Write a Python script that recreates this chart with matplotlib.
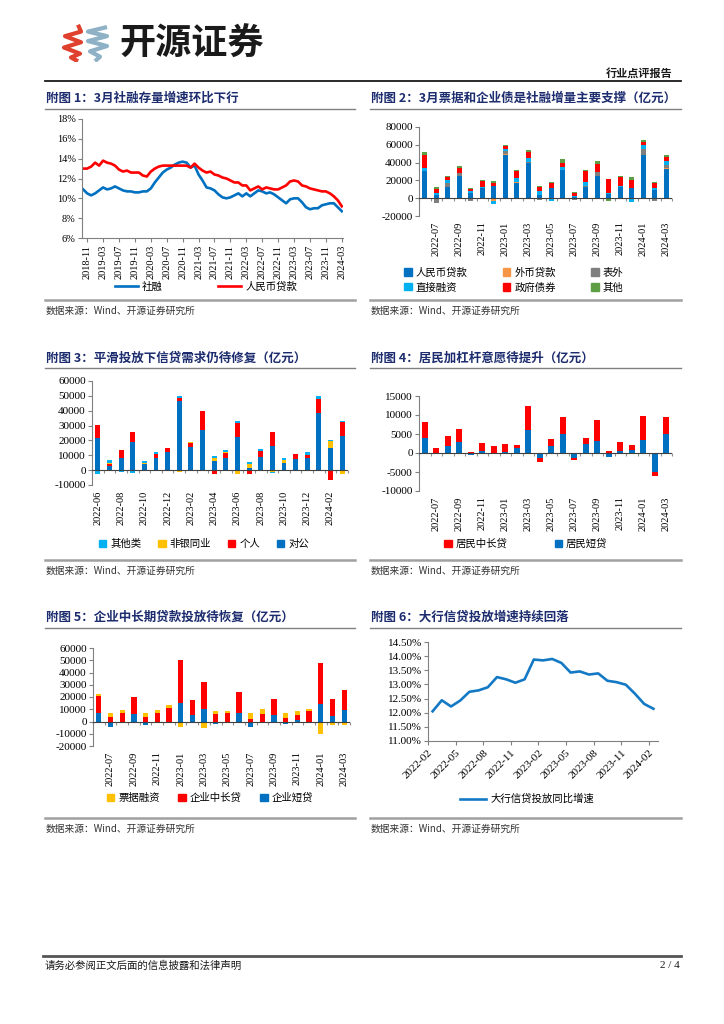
import matplotlib
matplotlib.use('Agg')
import matplotlib.pyplot as plt
import numpy as np
import pandas as pd
from matplotlib.lines import Line2D
from matplotlib.patches import Patch

plt.rcParams['font.family'] = ['Liberation Serif', 'Noto Sans CJK SC', 'DejaVu Sans']
plt.rcParams['axes.unicode_minus'] = False

# ---- data ----
# chart 1: monthly 2018-10 .. 2024-03, yoy %
m1 = [p.strftime('%Y-%m') for p in pd.period_range('2018-10', '2024-03', freq='M')]
shrz_yoy = [10.9, 10.5, 10.3, 10.5, 10.8, 11.1, 10.9, 11.0, 11.2, 11.0,
            10.8, 10.7, 10.7, 10.6, 10.6, 10.7, 10.7, 11.0, 11.6, 12.1,
            12.6, 12.9, 13.1, 13.4, 13.6, 13.7, 13.6, 13.1, 13.3, 12.4,
            11.8, 11.1, 11.0, 10.8, 10.4, 10.1, 10.0, 10.1, 10.3, 10.5,
            10.2, 10.5, 10.2, 10.5, 10.8, 10.7, 10.5, 10.6, 10.4, 10.1,
            9.8, 9.5, 9.9, 10.0, 10.0, 9.6, 9.1, 8.9, 9.0, 9.0,
            9.3, 9.4, 9.5, 9.5, 9.1, 8.7]
rmb_yoy = [13.0, 13.0, 13.2, 13.6, 13.3, 13.8, 13.6, 13.5, 13.3, 12.9,
           12.7, 12.8, 12.6, 12.6, 12.6, 12.3, 12.2, 12.7, 13.0, 13.2,
           13.3, 13.3, 13.3, 13.3, 13.3, 13.3, 13.3, 13.1, 13.5, 13.1,
           12.8, 12.6, 12.7, 12.4, 12.3, 12.1, 12.0, 11.8, 11.6, 11.6,
           11.3, 11.3, 10.8, 11.0, 11.2, 10.9, 11.1, 11.0, 10.9, 10.9,
           11.1, 11.3, 11.7, 11.8, 11.7, 11.3, 11.2, 11.0, 10.9, 10.8,
           10.7, 10.7, 10.5, 10.2, 9.8, 9.2]

# charts 2-5: monthly 2022-06 .. 2024-03, 亿元
months = [p.strftime('%Y-%m') for p in pd.period_range('2022-06', '2024-03', freq='M')]

tsf_rmb_loan = [30400, 4100, 12700, 25500, 6400, 11600, 13900, 49100, 17600, 39000, 3400,
                11600, 31500, 1900, 12700, 24800, 4500, 12400, 10900, 48400, 9000, 33000]
tsf_fx_loan = [-300, -800, -800, -600, -500, -400, -2600, 200, 300, -200, -500,
               -200, -300, -300, -100, -200, -300, -200, -100, 700, -200, 700]
tsf_offbs = [-500, -4500, 4900, 2600, -2500, -600, -300, 3700, 300, 1900, -1500,
             -300, -800, -1500, 500, 4100, -200, -300, -1000, 6000, -2600, 3400]
tsf_direct = [3000, 2200, 2600, 300, 1500, 1500, -3700, 2600, 4900, 4500, 4500,
              -2600, 3400, 300, 4900, 300, 1900, 1500, -3400, 5200, 2200, 4900]
tsf_gov = [15700, 3700, 3400, 5300, 2300, 6000, 3000, 3400, 7100, 6000, 4500,
           6000, 5200, 4100, 12000, 9700, 15700, 10100, 9400, 3000, 6000, 4500]
tsf_other = [3000, 2200, 1900, 2600, 1100, 1500, 2200, 1100, 1500, 2600, 1500,
             1100, 3400, 1100, 1500, 2600, -2200, 700, 3400, 1900, 1100, 2200]

ln_corp = [21600, 2700, 8200, 18700, 4000, 8200, 12200, 46400, 15800, 26700, 6400,
           8200, 22400, 1600, 9100, 16200, 4900, 7800, 8200, 38200, 15100, 22900]
ln_personal = [9100, 1300, 5300, 7100, -800, 2700, 2700, 2400, 2200, 13300, -2700,
               3300, 9300, -2900, 3800, 9300, -900, 3300, 2200, 9600, -6400, 9300]
ln_nonbank = [-700, 900, 0, -700, 1100, 0, 0, -1000, 700, 0, 2000,
              700, -2300, 2400, -700, -1300, 2000, 0, 0, 0, 4400, -2400]
ln_other = [-2000, 1800, -1000, -1300, 1300, 1600, -500, 900, 0, -500, 1300,
            1600, 1100, 1800, 1300, -800, 1100, -500, 1600, 1800, 1100, 900]

hh_long = [4200, 1300, 2650, 3400, 350, 2100, 1750, 2100, 800, 6350, -1150,
           1650, 4500, -600, 1600, 5500, 600, 2300, 1300, 6350, -1050, 4400]
hh_short = [4000, -350, 1850, 3000, -600, 450, -100, 350, 1200, 6050, -1300,
            1950, 4950, -1350, 2300, 3100, -1050, 600, 800, 3450, -4950, 4950]

co_short = [6800, -4100, -400, 6000, -2500, -300, -700, 14700, 5200, 10100, -1700,
            -300, 6800, -4300, -200, 5200, -2200, 1400, -900, 14100, 4600, 9500]
co_long = [14100, 3300, 7100, 14100, 3800, 7100, 11400, 35600, 12000, 21800, 6300,
           7300, 17100, 2200, 6300, 13300, 2700, 3800, 8200, 33700, 13600, 16600]
co_bill = [1600, 3800, 2200, -1500, 3000, 2400, 2200, -4800, -1500, -5000, 1900,
           1400, -1500, 4600, 3800, -1500, 4400, 3500, 2200, -9800, -3000, -2800]

# chart 6: 2022-02 .. 2024-02, %
m6 = [p.strftime('%Y-%m') for p in pd.period_range('2022-02', '2024-02', freq='M')]
big_bank_yoy = [12.05, 12.44, 12.22, 12.43, 12.74, 12.79, 12.90, 13.26, 13.18, 13.06,
                13.18, 13.88, 13.85, 13.90, 13.76, 13.42, 13.46, 13.35, 13.39, 13.13,
                13.08, 12.99, 12.67, 12.31, 12.14]

BLUE = '#0070C0'
RED = '#FF0000'
CYAN = '#00B0F0'
GOLD = '#FFC000'
ORANGE = '#F79646'
GRAY = '#7F7F7F'
GREEN = '#5E9E44'
NAVY = '#1C2C6E'
CJK = ['Noto Sans CJK SC', 'DejaVu Sans']

W, H = 724, 1024
fig = plt.figure(figsize=(7.24, 10.24), dpi=100)


def box(x0, y0, x1, y1):
    return fig.add_axes([x0 / W, 1 - y1 / H, (x1 - x0) / W, (y1 - y0) / H])


def ftext(x, y, s, **kw):
    fig.text(x / W, 1 - y / H, s, **kw)


def hline(x0, x1, y, **kw):
    fig.add_artist(Line2D([x0 / W, x1 / W], [1 - y / H, 1 - y / H], **kw))


def panel_frame(x0, x1, ytitle, yline, ysrc, title):
    ftext(x0 + 1, ytitle, title, family=CJK, fontsize=9, fontweight='bold',
          color=NAVY, va='center')
    hline(x0, x1, yline, color='#808080', lw=1)
    hline(x0, x1, ysrc, color='#A0A0A0', lw=1.8)
    ftext(x0 + 1, ysrc + 11, '数据来源：Wind、开源证券研究所', family=CJK,
          fontsize=7, color='#333333', va='center')


def stacked(ax, series, colors, width):
    x = np.arange(len(series[0]))
    pos = np.zeros(len(x))
    neg = np.zeros(len(x))
    for vals, c in zip(series, colors):
        v = np.array(vals, float)
        base = np.where(v >= 0, pos, neg)
        ax.bar(x, v, width, bottom=base, color=c, zorder=2)
        pos += np.clip(v, 0, None)
        neg += np.clip(v, None, 0)


def bar_axes(ax, ylim, step, first_label):
    n = len(months)
    ax.set_xlim(-0.5, n - 0.5)
    ax.set_ylim(*ylim)
    ax.set_yticks(np.arange(ylim[0], ylim[1] + 1, step))
    ax.set_yticklabels([str(int(v)) for v in ax.get_yticks()])
    for s in ['top', 'right', 'bottom']:
        ax.spines[s].set_visible(False)
    ax.spines['left'].set_color('#808080')
    ax.tick_params(axis='y', length=3, color='#808080', labelsize=8, pad=1.5)
    idx = list(range(first_label, n, 2))
    ax.set_xticks(idx)
    ax.set_xticklabels([months[i] for i in idx], rotation=90)
    ax.tick_params(axis='x', length=0, labelsize=7.5, pad=4)
    ax.axhline(0, color='#404040', lw=0.8, zorder=3)
    zero = (0 - ylim[0]) / (ylim[1] - ylim[0])
    sec = ax.secondary_xaxis(zero)
    sec.set_xticks(np.arange(n + 1) - 0.5)
    sec.tick_params(length=2.5, color='#909090', labelbottom=False)
    sec.spines['bottom'].set_visible(False)


def square_legend(ax, labels, colors, cx, cy, ncol, colsp):
    handles = [Patch(color=c, label=l) for l, c in zip(labels, colors)]
    ax.legend(handles=handles, loc='center', bbox_to_anchor=(cx / W, 1 - cy / H),
              bbox_transform=fig.transFigure, ncol=ncol, frameon=False,
              prop={'family': CJK, 'size': 7.5}, handlelength=0.7, handleheight=0.7,
              handletextpad=0.4, columnspacing=colsp, labelspacing=0.45)


# ---- header ----
logo = box(60, 24, 110, 62)
logo.set_xlim(0, 1)
logo.set_ylim(0, 1)
logo.axis('off')
logo.plot([0.36, 0.42, 0.10, 0.42, 0.08, 0.40, 0.22, 0.36],
          [0.98, 0.80, 0.68, 0.52, 0.38, 0.22, 0.12, 0.02],
          color='#E0402E', lw=3.0, solid_capstyle='butt')
logo.plot([0.94, 0.56, 0.94, 0.56, 0.94, 0.60, 0.80, 0.70],
          [0.92, 0.80, 0.68, 0.55, 0.42, 0.28, 0.14, 0.02],
          color='#8EB1C6', lw=3.0, solid_capstyle='butt')
ftext(119, 44, '开源证券', family=CJK, fontsize=26, fontweight='bold',
      color='#1A1A1A', va='center')
ftext(673, 73, '行业点评报告', family=CJK, fontsize=8, fontweight='bold',
      color='#1A1A1A', va='center', ha='right')
hline(45, 681, 81, color='#1A1A1A', lw=1.3)

# ---- chart 1 ----
panel_frame(45, 355, 98, 109, 300, '附图 1：3月社融存量增速环比下行')
ax1 = box(82, 119, 343, 238)
x1 = np.arange(len(m1))
ax1.plot(x1, shrz_yoy, color=BLUE, lw=1.9, label='社融')
ax1.plot(x1, rmb_yoy, color=RED, lw=1.9, label='人民币贷款')
ax1.set_xlim(-0.3, len(m1) - 0.7)
ax1.set_ylim(6, 18)
ax1.set_yticks(np.arange(6, 19, 2))
ax1.set_yticklabels([f'{v}%' for v in range(6, 19, 2)])
for s in ['top', 'right']:
    ax1.spines[s].set_visible(False)
ax1.spines['left'].set_color('#808080')
ax1.spines['bottom'].set_color('#808080')
idx1 = list(range(1, len(m1), 4))
ax1.set_xticks(idx1)
ax1.set_xticklabels([m1[i] for i in idx1], rotation=90)
ax1.tick_params(axis='y', length=3, color='#808080', labelsize=7.5, pad=1.5)
ax1.tick_params(axis='x', length=3, color='#808080', labelsize=7.5, pad=2)
ax1.legend(loc='center', bbox_to_anchor=(206 / W, 1 - 287 / H), bbox_transform=fig.transFigure,
           ncol=2, frameon=False, prop={'family': CJK, 'size': 7.5}, handlelength=2.2,
           columnspacing=5.3, handletextpad=0.4)

# ---- chart 2 ----
panel_frame(370, 681, 98, 109, 300, '附图 2：3月票据和企业债是社融增量主要支撑（亿元）')
ax2 = box(419, 127, 672, 216)
stacked(ax2, [tsf_rmb_loan, tsf_fx_loan, tsf_offbs, tsf_direct, tsf_gov, tsf_other],
        [BLUE, ORANGE, GRAY, CYAN, RED, GREEN], 0.42)
bar_axes(ax2, (-20000, 80000), 20000, 1)
square_legend(ax2, ['人民币贷款', '直接融资', '外币贷款', '政府债券', '表外', '其他'],
              [BLUE, CYAN, ORANGE, RED, GRAY, GREEN], 514, 280, 3, 3.4)

# ---- chart 3 ----
panel_frame(45, 355, 358, 368, 560, '附图 3：平滑投放下信贷需求仍待修复（亿元）')
ax3 = box(92, 381, 348, 485)
stacked(ax3, [ln_corp, ln_personal, ln_nonbank, ln_other], [BLUE, RED, GOLD, CYAN], 0.42)
bar_axes(ax3, (-10000, 60000), 10000, 0)
square_legend(ax3, ['其他类', '非银同业', '个人', '对公'], [CYAN, GOLD, RED, BLUE],
              204, 544, 4, 1.6)

# ---- chart 4 ----
panel_frame(370, 681, 358, 368, 560, '附图 4：居民加杠杆意愿待提升（亿元）')
ax4 = box(419, 396, 672, 491)
stacked(ax4, [hh_short, hh_long], [BLUE, RED], 0.5)
bar_axes(ax4, (-10000, 15000), 5000, 1)
square_legend(ax4, ['居民中长贷', '居民短贷'], [RED, BLUE], 526, 544, 2, 4.5)

# ---- chart 5 ----
panel_frame(45, 355, 617, 628, 818, '附图 5：企业中长期贷款投放待恢复（亿元）')
ax5 = box(93, 648, 350, 746)
stacked(ax5, [co_short, co_long, co_bill], [BLUE, RED, GOLD], 0.45)
bar_axes(ax5, (-20000, 60000), 10000, 1)
square_legend(ax5, ['票据融资', '企业中长贷', '企业短贷'], [GOLD, RED, BLUE],
              210, 798, 3, 1.8)

# ---- chart 6 ----
panel_frame(370, 681, 617, 628, 818, '附图 6：大行信贷投放增速持续回落')
ax6 = box(428, 642, 658, 741)
x6 = np.arange(len(m6))
ax6.plot(x6, big_bank_yoy, color='#1479C4', lw=1.9, label='大行信贷投放同比增速')
ax6.set_xlim(-0.5, len(m6) - 0.5)
ax6.set_ylim(11, 14.5)
ax6.set_yticks(np.arange(11, 14.51, 0.5))
ax6.set_yticklabels([f'{v:.2f}%' for v in np.arange(11, 14.51, 0.5)])
for s in ['top', 'right']:
    ax6.spines[s].set_visible(False)
ax6.spines['left'].set_color('#808080')
ax6.spines['bottom'].set_color('#808080')
idx6 = list(range(0, len(m6), 3))
ax6.set_xticks([i - 0.5 for i in idx6])
ax6.set_xticklabels([m6[i] for i in idx6], rotation=45, ha='right', rotation_mode='anchor')
ax6.tick_params(axis='y', length=3, color='#808080', labelsize=8, pad=1.5)
ax6.tick_params(axis='x', length=3, color='#808080', labelsize=8, pad=2)
ax6.legend(loc='center', bbox_to_anchor=(527 / W, 1 - 799 / H), bbox_transform=fig.transFigure,
           frameon=False, prop={'family': CJK, 'size': 7.5}, handlelength=2.5, handletextpad=0.4)

# ---- footer ----
hline(43, 681, 956, color='#555555', lw=2)
ftext(45, 966, '请务必参阅正文后面的信息披露和法律声明', family=CJK, fontsize=7.5,
      color='#1A1A1A', va='center')
ftext(680, 966, '2 / 4', fontsize=8, color='#1A1A1A', va='center', ha='right')

fig.savefig('out.png', dpi=100)
